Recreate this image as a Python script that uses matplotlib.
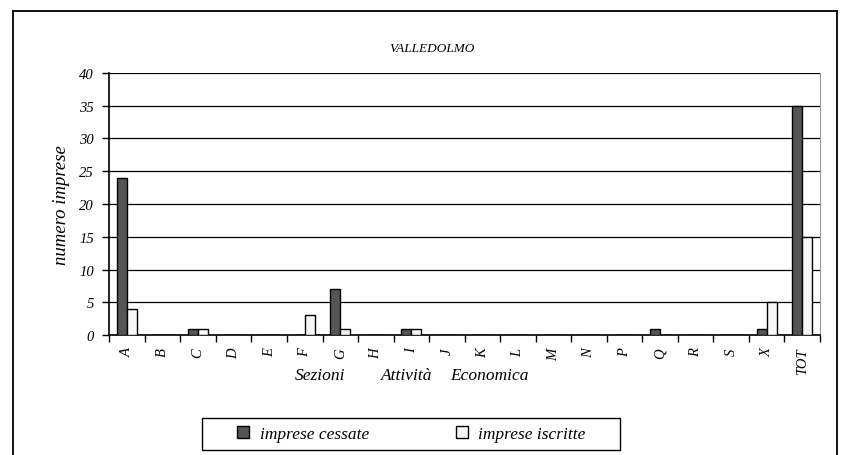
import matplotlib
matplotlib.use('Agg')
import matplotlib.pyplot as plt
import matplotlib.patches as mpatches
from matplotlib.lines import Line2D
import numpy as np

plt.rcParams['font.family'] = ['Liberation Serif', 'DejaVu Serif']
plt.rcParams['font.style'] = 'italic'

SEZIONI = ['A', 'B', 'C', 'D', 'E', 'F', 'G', 'H', 'I', 'J', 'K', 'L', 'M',
           'N', 'P', 'Q', 'R', 'S', 'X', 'TOT']
CESSATE = [24, 0, 1, 0, 0, 0, 7, 0, 1, 0, 0, 0, 0, 0, 0, 1, 0, 0, 1, 35]
ISCRITTE = [4, 0, 1, 0, 0, 3, 1, 0, 1, 0, 0, 0, 0, 0, 0, 0, 0, 0, 5, 15]

DARK = '#555555'
LIGHT = '#f7f7f7'

fig = plt.figure(figsize=(8.41, 4.56), dpi=100)
ax = fig.add_axes([0.130, 0.263, 0.845, 0.575])

x = np.arange(len(SEZIONI))
w = 0.28
ax.bar(x - w / 2, CESSATE, width=w, color=DARK, edgecolor='black', linewidth=1, zorder=3)
ax.bar(x + w / 2, ISCRITTE, width=w, color=LIGHT, edgecolor='black', linewidth=1, zorder=3)

ax.set_xlim(-0.5, len(SEZIONI) - 0.5)
ax.set_ylim(0, 40)
ax.set_yticks(range(0, 41, 5))
ax.yaxis.grid(True, color='black', linewidth=0.9, zorder=0)
ax.set_axisbelow(True)

ax.set_xticks(x)
ax.set_xticklabels(SEZIONI, rotation=90, fontsize=10.5)
ax.set_xticks(np.arange(-0.5, len(SEZIONI)), minor=True)
ax.tick_params(axis='x', which='major', length=0, pad=9)
ax.tick_params(axis='x', which='minor', length=5, width=1, direction='out')
ax.tick_params(axis='y', length=5, width=1, labelsize=10.5, pad=6)

ax.spines['top'].set_visible(False)
ax.spines['right'].set_color('#999999')
ax.spines['left'].set_linewidth(1.2)
ax.spines['bottom'].set_linewidth(1.2)

ax.set_ylabel('numero imprese', fontsize=13.5, labelpad=7)

fig.text(0.514, 0.893, 'VALLEDOLMO', ha='center', va='center', fontsize=9.5)

# x label, spread out as in the original
fig.text(295 / 841, 0.175, 'Sezioni', ha='left', va='center', fontsize=12.5)
fig.text(381 / 841, 0.175, 'Attività', ha='left', va='center', fontsize=12.5)
fig.text(450 / 841, 0.175, 'Economica', ha='left', va='center', fontsize=12.5)

# legend box drawn by hand
fig.patches.append(mpatches.Rectangle((202 / 841, 5 / 456), 418 / 841, 32 / 456,
                                      transform=fig.transFigure, fill=False,
                                      edgecolor='black', linewidth=1))
handles = [mpatches.Patch(facecolor=DARK, edgecolor='black', label='imprese cessate'),
           mpatches.Patch(facecolor=LIGHT, edgecolor='black', label='imprese iscritte')]
fig.legend(handles=handles, loc='center', bbox_to_anchor=(0.489, 0.046), ncol=2,
           frameon=False, fontsize=12.5, handlelength=0.7, handleheight=0.7,
           handletextpad=0.6, columnspacing=5.0)

# outer frame (bottom edge runs off the picture)
for xs, ys in [((12.5 / 841, 12.5 / 841), (0, 1 - 11.5 / 456)),
               ((12.5 / 841, 837 / 841), (1 - 11.5 / 456, 1 - 11.5 / 456)),
               ((837 / 841, 837 / 841), (0, 1 - 11.5 / 456))]:
    fig.add_artist(Line2D(xs, ys, transform=fig.transFigure, color='black', linewidth=1.3))

fig.savefig('out.png', dpi=100)
